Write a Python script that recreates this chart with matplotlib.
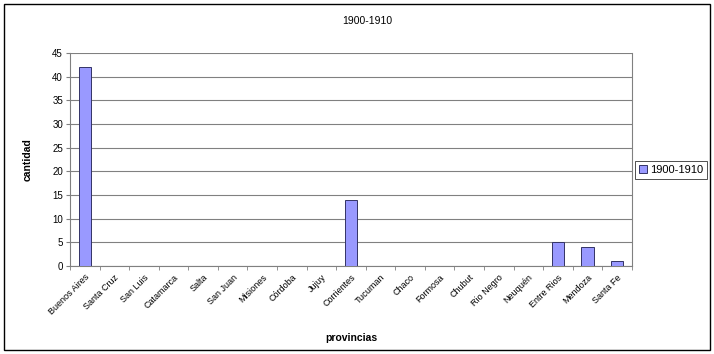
import matplotlib.pyplot as plt
import numpy as np
from matplotlib.patches import Rectangle

plt.rcParams["font.family"] = ["Liberation Sans", "DejaVu Sans"]

provincias = ["Buenos Aires", "Santa Cruz", "San Luis", "Catamarca", "Salta",
              "San Juan", "Misiones", "Córdoba", "Jujuy", "Corrientes",
              "Tucuman", "Chaco", "Formosa", "Chubut", "Rio Negro",
              "Neuquén", "Entre Rios", "Mendoza", "Santa Fe"]
cantidad = [42, 0, 0, 0, 0, 0, 0, 0, 0, 14, 0, 0, 0, 0, 0, 0, 5, 4, 1]
serie = "1900-1910"

fig = plt.figure(figsize=(7.14, 3.54), dpi=100)
fig.patches.append(Rectangle((0.006, 0.012), 0.988, 0.976, transform=fig.transFigure,
                             fill=False, edgecolor="black", linewidth=1.0))

ax = fig.add_axes([0.098, 0.249, 0.787, 0.601])
x = np.arange(len(provincias))
ax.bar(x, cantidad, width=0.42, color="#9999ff", edgecolor="#333366",
       linewidth=0.7, label=serie, zorder=3)

ax.set_xlim(-0.5, len(provincias) - 0.5)
ax.set_ylim(0, 45)
ax.set_yticks(np.arange(0, 46, 5))
ax.yaxis.grid(True, color="#808080", linewidth=0.8, zorder=0)

ax.set_xticks(x)
ax.set_xticklabels(provincias, rotation=45, ha="right", rotation_mode="anchor",
                   fontsize=6.5)
ax.tick_params(axis="x", length=0, pad=5)
ax.set_xticks(np.arange(-0.5, len(provincias)), minor=True)
ax.tick_params(axis="x", which="minor", length=3, color="#808080")
ax.tick_params(axis="y", labelsize=7, length=3, color="#808080", pad=2)

ax.spines["top"].set_visible(False)
for side in ["right", "left", "bottom"]:
    ax.spines[side].set_color("#808080")

ax.set_ylabel("cantidad", fontsize=7.5, fontweight="bold", labelpad=14)
ax.set_xlabel("provincias", fontsize=7.5, fontweight="bold", labelpad=12)
fig.text(0.515, 0.94, serie, fontsize=7.5, ha="center", va="center")

leg = ax.legend(loc="center left", bbox_to_anchor=(1.006, 0.45), fontsize=8,
                frameon=True, fancybox=False, edgecolor="black", handlelength=0.7,
                handleheight=0.7, handletextpad=0.3, borderpad=0.35, borderaxespad=0)
leg.get_frame().set_linewidth(0.6)

fig.savefig("out.png", dpi=100, facecolor="white")
